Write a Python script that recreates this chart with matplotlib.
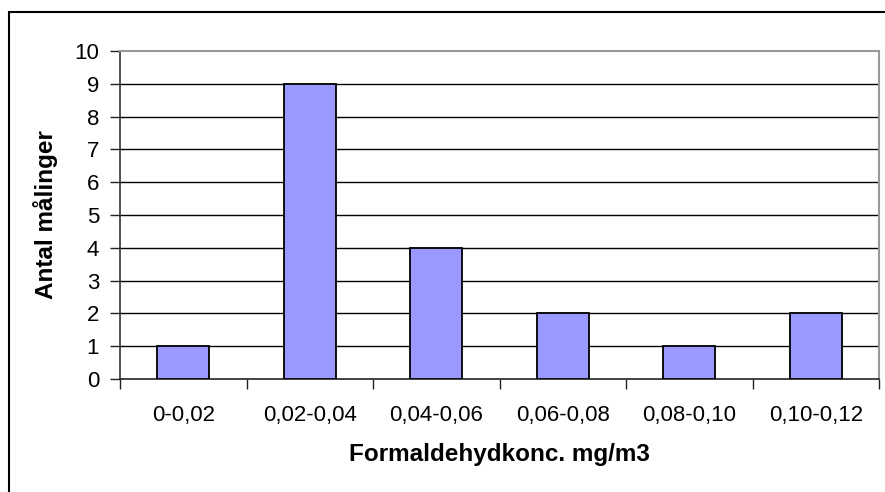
import matplotlib
matplotlib.use("Agg")
import matplotlib.pyplot as plt
from matplotlib.patches import Rectangle

categories = ["0-0,02", "0,02-0,04", "0,04-0,06", "0,06-0,08", "0,08-0,10", "0,10-0,12"]
counts = [1, 9, 4, 2, 1, 2]
yticks = list(range(0, 11))

plt.rcParams['font.family'] = ['Liberation Sans', 'DejaVu Sans']

fig = plt.figure(figsize=(8.85, 4.92), dpi=100)
W, H = 885, 492
ax = fig.add_axes([120 / W, 1 - 379 / H, (879 - 120) / W, (379 - 51) / H])

# outer chart border
fig.patches.append(Rectangle((9 / W, -0.1), 1.2, 1 - 12 / H + 0.1, transform=fig.transFigure,
                             fill=False, edgecolor='black', linewidth=1.5, zorder=0))

x = list(range(len(categories)))
ax.bar(x, counts, width=0.41, color='#9999ff', edgecolor='black', linewidth=1.3, zorder=3)

ax.set_xlim(-0.5, len(categories) - 0.5)
ax.set_ylim(0, 10)
ax.set_yticks(yticks)
ax.set_yticklabels([str(v) for v in yticks], fontsize=16)
ax.set_xticks(x)
ax.set_xticklabels(categories, fontsize=16)
ax.tick_params(axis='x', length=0, pad=19)
ax.set_xticks([i - 0.5 for i in range(len(categories) + 1)], minor=True)
ax.tick_params(axis='x', which='minor', length=7, width=1, color='#222222', direction='out')
ax.tick_params(axis='y', length=7, width=1, color='#222222', direction='out', pad=8)

for v in yticks[1:-1]:
    ax.axhline(v, color='black', linewidth=1.0, zorder=1)

ax.spines['left'].set_color('#333333')
ax.spines['left'].set_linewidth(1.2)
ax.spines['bottom'].set_color('#222222')
ax.spines['bottom'].set_linewidth(1.2)
ax.spines['top'].set_color('#999999')
ax.spines['top'].set_linewidth(1.5)
ax.spines['right'].set_color('#999999')
ax.spines['right'].set_linewidth(1.5)

ax.set_xlabel("Formaldehydkonc. mg/m3", fontsize=17.5, fontweight='bold', labelpad=12)
ax.set_ylabel("Antal målinger", fontsize=17.5, fontweight='bold', labelpad=12)

fig.savefig("out.png", dpi=100)
